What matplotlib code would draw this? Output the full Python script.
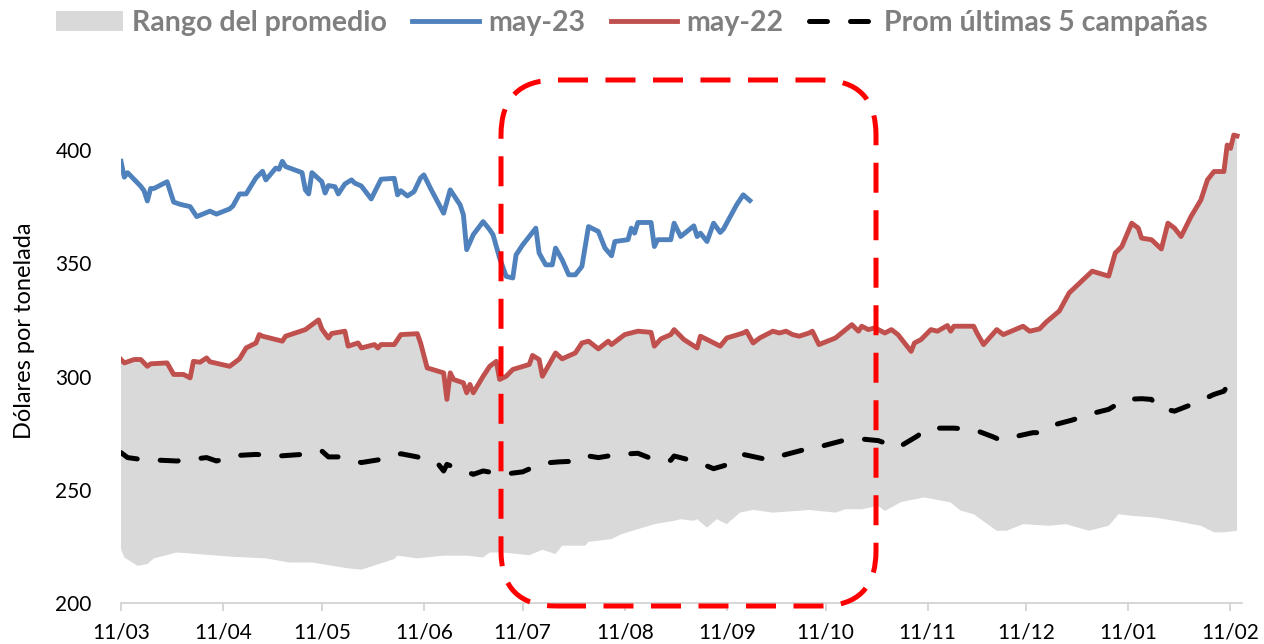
import matplotlib
matplotlib.use('Agg')
import matplotlib.pyplot as plt
import matplotlib.dates as mdates
from matplotlib.patches import Patch, FancyBboxPatch
from matplotlib.lines import Line2D
from matplotlib.transforms import IdentityTransform
import numpy as np
import pandas as pd

plt.rcParams['font.family'] = ['Lato', 'DejaVu Sans']

inicio = pd.Timestamp('2023-03-11')

# may-23 (dias desde 11/03)
dias_may23 = [0, 1, 2, 4, 6, 7, 8, 9, 10, 14, 16, 18, 21, 23, 27, 29, 33, 34, 36, 38,
              41, 43, 44, 47, 48, 49, 50, 55, 56, 57, 58, 61, 62, 63, 65, 66, 68, 70, 71, 73,
              76, 79, 83, 84, 85, 87, 89, 91, 92, 94, 98, 100, 103, 104, 105, 107, 110, 112, 113, 115,
              117, 119, 120, 122, 126, 127, 129, 131, 132, 134, 136, 138, 140, 142, 145, 147, 149, 150, 154, 155,
              156, 157, 161, 162, 163, 167, 168, 170, 174, 175, 176, 178, 180, 182, 183, 187, 189, 191]
may23 = [395, 388, 390, 387, 384, 382, 377.5, 383, 383, 386, 377, 376, 375, 370.6, 373, 371.7, 374, 375.3, 380.6, 380.6,
         387.7, 390.6, 386.8, 392, 391.5, 395, 392.7, 390, 382.4, 380.6, 390, 386, 381, 384.3, 383.8, 380.6, 385, 386.8, 385.4, 384.1,
         378.4, 387.1, 387.5, 380.2, 382, 379.7, 381.6, 387.7, 389, 383.1, 372.1, 382.4, 375.8, 371.4, 356, 362.6, 368.4, 364.8, 362.6, 352.3,
         344.2, 343.5, 353.7, 358.1, 365.5, 354.5, 349.3, 349.3, 356.7, 351.5, 344.9, 344.9, 348.6, 366.2, 364, 356.7, 353.3, 359.6, 360.4, 365.5,
         363.3, 368, 368, 357.4, 360.4, 360.4, 367.7, 361.8, 366.5, 361.8, 363.3, 359.6, 367.7, 363.6, 365.1, 375.8, 380.2, 377.7]

# may-22
dias_may22 = [0, 1, 4, 6, 8, 9, 14, 16, 19, 21, 22, 24, 26, 27, 33, 36, 38, 41, 42, 43,
              49, 50, 56, 60, 61, 63, 64, 68, 69, 72, 73, 77, 78, 79, 83, 85, 90, 91, 93, 98,
              99, 100, 101, 104, 105, 106, 107, 110, 112, 114, 115, 117, 119, 124, 125, 127, 128, 132, 134, 138,
              140, 142, 145, 148, 149, 153, 157, 161, 162, 164, 167, 168, 171, 175, 176, 179, 182, 184, 189, 190,
              192, 194, 198, 200, 202, 204, 206, 209, 210, 212, 217, 222, 224, 225, 227, 229, 232, 234, 236, 240,
              241, 243, 246, 248, 251, 252, 253, 259, 260, 262, 266, 268, 274, 276, 279, 281, 285, 288, 295, 300,
              302, 304, 307, 309, 310, 313, 316, 318, 320, 322, 325, 328, 330, 332, 335, 336, 337, 338, 339]
may22 = [307.5, 306, 307.5, 307.5, 304.5, 305.6, 306, 300.9, 300.9, 299.4, 306.7, 306.3, 308.2, 306.5, 304.5, 307.8, 312.6, 314.8, 318.5, 317.8,
         315.6, 317.8, 320.7, 325, 321, 317, 319, 320, 313.4, 314.8, 312.6, 314.1, 312.6, 314.1, 314.1, 318.5, 318.9, 314.8, 303.8, 301.6,
         289.9, 301.6, 298.7, 297.2, 292.8, 296.5, 292.8, 300.1, 304.5, 306.7, 298.7, 300.1, 303.1, 305.3, 309.3, 307.5, 300.1, 310.4, 307.8, 310.4,
         314.8, 315.6, 312.2, 315.6, 314.1, 318.5, 320, 319.5, 313.4, 316.6, 318.5, 320.7, 316.3, 312.6, 317.8, 315.6, 313.4, 317, 319.2, 320,
         314.8, 317, 320, 319.2, 320, 318.5, 317.8, 319.2, 320, 314.1, 317, 322.9, 320, 322.2, 320.7, 321.5, 319.2, 320.7, 318.5, 311.1,
         314.8, 316.3, 320.7, 320, 322.5, 320, 322.2, 322.2, 319.2, 314.1, 320.7, 318.5, 322.2, 320, 321, 324, 328.9, 336.9, 346.5, 344.3,
         354.5, 357.4, 367.7, 365.5, 361.1, 360.4, 356.3, 367.7, 365.5, 361.8, 370.6, 377.9, 386.8, 390.5, 390.5, 402.2, 400.7, 406.6, 406.2]

# Prom ultimas 5 campañas
dias_prom = [0, 2, 6, 17, 26, 29, 36, 41, 48, 55, 61, 63, 66, 73, 79, 85, 90, 96, 98, 99,
             105, 107, 110, 116, 122, 128, 133, 139, 142, 145, 151, 157, 163, 167, 168, 175, 180, 184, 187, 189,
             196, 198, 201, 207, 211, 213, 219, 225, 230, 236, 242, 244, 247, 253, 259, 265, 267, 271, 277, 279,
             282, 289, 294, 300, 305, 310, 313, 315, 320, 326, 332, 335, 336]
prom = [266.4, 264.2, 263.4, 262.7, 264.2, 262.7, 265.2, 265.6, 264.9, 265.6, 267.1, 264.5, 264.5, 262, 263.4, 265.9, 264.5, 262, 258.3, 261.2,
        257.9, 256.8, 258.3, 256.8, 257.9, 261.7, 262.3, 262.7, 264.9, 264.2, 265.6, 266.1, 262.7, 263, 264.9, 262.3, 259.3, 261, 263.4, 265.6,
        263.4, 264.6, 265.2, 267.5, 268.6, 269.3, 271.6, 272.4, 271.7, 268.6, 273.8, 276.4, 277.2, 277.2, 276.6, 273.3, 272, 273.3, 275.2, 275.2,
        278.1, 280.8, 283.3, 285.5, 289.9, 290.2, 289.9, 286.2, 284.7, 288.1, 292.1, 293.5, 295.7]

# Rango del promedio: minimo (el maximo coincide con may-22)
dias_min = [0, 1, 5, 8, 10, 17, 34, 44, 51, 58, 69, 73, 83, 84, 90, 98, 105, 110, 112, 116,
            124, 128, 132, 134, 141, 142, 149, 152, 162, 168, 170, 174, 175, 178, 181, 184, 188, 192, 198, 205,
            209, 217, 220, 225, 230, 232, 237, 244, 247, 252, 255, 259, 266, 269, 274, 282, 287, 294, 300, 303,
            307, 314, 320, 328, 332, 335, 339]
rango_min = [223.8, 220.1, 216.4, 217.2, 219.7, 222.3, 220.4, 219.7, 217.9, 217.9, 215.3, 214.7, 219.4, 220.9, 219.7, 220.9, 220.9, 220.1, 222.3, 222.3,
             221.1, 223.5, 221.6, 225.3, 225.3, 227, 228.2, 230.4, 234.8, 236.3, 237, 236.3, 237, 233.3, 237, 234.8, 239.9, 241.1, 239.9, 240.6,
             241.1, 239.9, 241.4, 241.4, 242.9, 240.6, 244.6, 246.6, 245.8, 244.4, 240.8, 239.2, 231.9, 231.9, 234.8, 234.1, 234.8, 231.9, 234.1, 239.2,
             238.5, 237.7, 236.3, 234.1, 231.2, 231.2, 231.9]


def fechas(dias):
    return mdates.date2num(inicio + pd.to_timedelta(dias, unit='D'))


W, H = 1264, 644
fig = plt.figure(figsize=(W / 100, H / 100), dpi=100)
y0_px, ppu = 603, 2.265
ymax = 440
ax = fig.add_axes([121 / W, (H - y0_px) / H, (1242 - 121) / W, (ymax - 200) * ppu / H])

x_sup = fechas(dias_may22)
x_inf = fechas(dias_min)
ax.fill(np.concatenate([x_sup, x_inf[::-1]]), np.concatenate([may22, rango_min[::-1]]),
        color='#d9d9d9', lw=0, zorder=1)
ax.plot(fechas(dias_prom), prom, color='black', lw=3.6, dashes=(3.6, 4.6),
        dash_capstyle='round', zorder=2)
ax.plot(x_sup, may22, color='#c0504d', lw=3.5, solid_joinstyle='round', zorder=3)
ax.plot(fechas(dias_may23), may23, color='#4f81bd', lw=3.5, solid_joinstyle='round', zorder=4)

ax.set_xlim(fechas([0])[0], fechas([340.5])[0])
ax.set_ylim(200, ymax)
ax.set_yticks([200, 250, 300, 350, 400])
ax.xaxis.set_major_locator(mdates.MonthLocator(bymonthday=11))
ax.xaxis.set_major_formatter(mdates.DateFormatter('%d/%m'))

for s in ['top', 'right', 'left']:
    ax.spines[s].set_visible(False)
ax.spines['bottom'].set_color('#d0d0d0')
ax.spines['bottom'].set_linewidth(1.2)
ax.tick_params(axis='x', colors='#d0d0d0', labelcolor='black', length=6, width=1.2,
               labelsize=15, pad=8)
ax.tick_params(axis='y', length=0, labelsize=15, pad=21)
ax.set_ylabel('Dólares por tonelada', fontsize=17, labelpad=15)

handles = [Patch(facecolor='#d9d9d9', edgecolor='none', label='Rango del promedio'),
           Line2D([], [], color='#4f81bd', lw=3.5, label='may-23'),
           Line2D([], [], color='#c0504d', lw=3.5, label='may-22'),
           Line2D([], [], color='black', lw=3.6, dashes=(3.6, 4.6), dash_capstyle='round',
                  label='Prom últimas 5 campañas')]
leg = fig.legend(handles=handles, loc='upper center', bbox_to_anchor=(0.5, 1.025), ncol=4,
                 frameon=False, handlelength=2.35, handletextpad=0.3, columnspacing=0.9,
                 prop={'weight': 'bold', 'size': 20.5})
for t in leg.get_texts():
    t.set_color('#7f7f7f')

# recuadro rojo punteado
caja = FancyBboxPatch((501, H - 606), 375, 606 - 80, boxstyle='round,pad=0,rounding_size=55',
                      transform=IdentityTransform(), fill=False, edgecolor='#ff0000',
                      lw=3.6, linestyle=(0, (6, 3.5)), clip_on=False, zorder=10)
fig.add_artist(caja)

fig.savefig('out.png', dpi=100)
